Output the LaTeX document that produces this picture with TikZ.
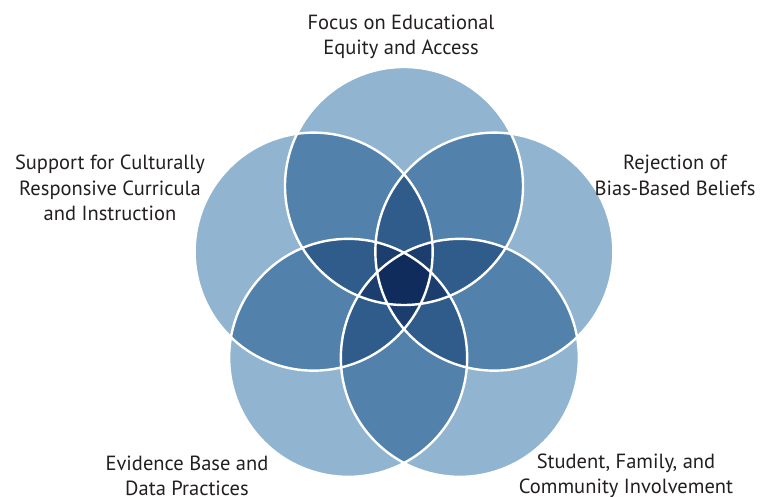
\documentclass[tikz,border=0pt]{standalone}
\usepackage{fontspec}
\setmainfont{PT Sans}
\usetikzlibrary{calc}
\begin{document}
\definecolor{lv1}{HTML}{91B5D1}
\definecolor{lv2}{HTML}{5281AB}
\definecolor{lv3}{HTML}{2F5C8B}
\definecolor{lv4}{HTML}{1C3E6E}
\definecolor{lv5}{HTML}{0F2C5C}
\definecolor{ink}{HTML}{231F20}
\begin{tikzpicture}[x=1pt,y=1pt,
  label/.style={align=center,text=ink,font=\fontsize{20.5}{25.5}\selectfont,inner sep=0pt},
  ring/.style={circle,draw=white,line width=2.4pt,minimum size=238pt,inner sep=0pt}]
\def\R{119}
\useasboundingbox (0,0) rectangle (767,497);
\coordinate (C) at (404,216);
\coordinate (p1) at ($(C)+(90:95)$);
\coordinate (p2) at ($(C)+(162:95)$);
\coordinate (p3) at ($(C)+(234:95)$);
\coordinate (p4) at ($(C)+(306:95)$);
\coordinate (p5) at ($(C)+(18:95)$);
% single circles
\foreach \a in {1,...,5} \fill[lv1] (p\a) circle (\R);
% pairwise overlaps
\foreach \a/\b in {1/2,1/3,1/4,1/5,2/3,2/4,2/5,3/4,3/5,4/5}{
  \begin{scope}\clip (p\a) circle (\R); \fill[lv2] (p\b) circle (\R);\end{scope}}
% triple overlaps
\foreach \a/\b/\c in {1/2/3,1/2/4,1/2/5,1/3/4,1/3/5,1/4/5,2/3/4,2/3/5,2/4/5,3/4/5}{
  \begin{scope}\clip (p\a) circle (\R); \clip (p\b) circle (\R); \fill[lv3] (p\c) circle (\R);\end{scope}}
% fourfold overlaps
\foreach \a/\b/\c/\d in {1/2/3/4,1/2/3/5,1/2/4/5,1/3/4/5,2/3/4/5}{
  \begin{scope}\clip (p\a) circle (\R); \clip (p\b) circle (\R); \clip (p\c) circle (\R); \fill[lv4] (p\d) circle (\R);\end{scope}}
% common core
\begin{scope}
  \clip (p1) circle (\R); \clip (p2) circle (\R); \clip (p3) circle (\R); \clip (p4) circle (\R);
  \fill[lv5] (p5) circle (\R);
\end{scope}
% white outlines
\node[ring] (equity) at (p1) {};
\node[ring] (curricula) at (p2) {};
\node[ring] (evidence) at (p3) {};
\node[ring] (community) at (p4) {};
\node[ring] (bias) at (p5) {};
% captions
\node[label] (tequity) at (401,460) {Focus on Educational\\Equity and Access};
\node[label] (tcurricula) at (110,309) {Support for Culturally\\Responsive Curricula\\and Instruction};
\node[label] (tbias) at (675,321.5) {Rejection of\\Bias-Based Beliefs};
\node[label] (tevidence) at (187,21) {Evidence Base and\\Data Practices};
\node[label] (tcommunity) at (626,21) {Student, Family, and\\Community Involvement};
\end{tikzpicture}
\end{document}
